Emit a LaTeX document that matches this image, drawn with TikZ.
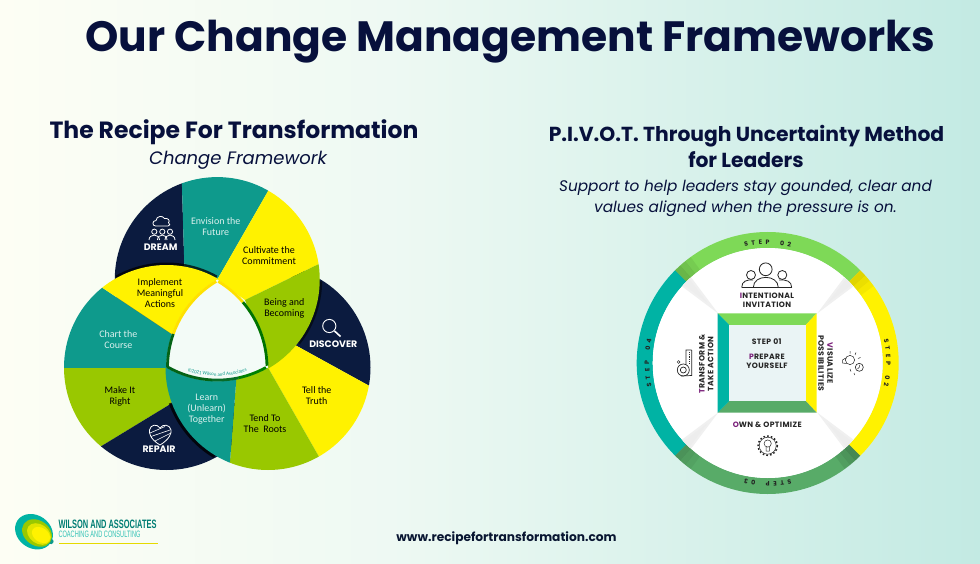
\documentclass[tikz,border=0pt]{standalone}
\usepackage{fontspec}
\setmainfont{Poppins}
\newfontfamily\wheelf{Carlito}
\newfontfamily\condf{Liberation Sans}
\usetikzlibrary{decorations.text}
\definecolor{navy}{HTML}{0B1B3F}
\definecolor{headc}{HTML}{07103C}
\definecolor{teal1}{HTML}{0E9A8C}
\definecolor{lime}{HTML}{99C800}
\definecolor{yel}{HTML}{FFF200}
\definecolor{bgl}{HTML}{FDFEF4}
\definecolor{bgm}{HTML}{EEF9F3}
\definecolor{bgr}{HTML}{C3EAE3}
\definecolor{ringg}{HTML}{7ED957}
\definecolor{ringd}{HTML}{58AB68}
\definecolor{ringt}{HTML}{00B3A4}
\definecolor{purp}{HTML}{7A1F7A}
\definecolor{stepc}{HTML}{222222}
\definecolor{sqin}{HTML}{EAF4F5}
\newcommand\fs[1]{\fontsize{#1}{#1}\selectfont}
\newcommand\arcc[4]{(#1) ++(#3:#2pt) arc[start angle=#3,end angle=#4,radius=#2pt]}
\newcommand\band[5]{(#1) ++(#4:#2pt) arc[start angle=#4,end angle=#5,radius=#2pt] -- ([shift={(#5:#3pt)}]#1) arc[start angle=#5,end angle=#4,radius=#3pt] -- cycle}
\newcommand\steplabel[2]{\foreach \c [count=\i] in {S,T,E,P,{},0,#2}{
  \pgfmathsetmacro\ang{#1+(\i-4)*3.45}
  \node[steptxt,rotate=-\ang-90] (st#1\i) at ([shift={(\ang:120.7pt)}]C) {\c};}}
\tikzset{
  wlabel/.style={font=\wheelf\fs{10},align=center,inner sep=0pt},
  wbig/.style={font=\bfseries\fs{9.4},text=white,inner sep=0pt},
  wtxt/.style={font=\bfseries\addfontfeature{LetterSpace=5}\fs{7.7},align=center,inner sep=0pt,text=black!85},
  steptxt/.style={font=\bfseries\fs{6.3},inner sep=0pt,text=stepc},
  icon/.style={draw=white,line width=.8pt,fill=none},
  bicon/.style={draw=black!85,line width=.8pt,fill=none},
  rim/.style={line width=2.8pt},
  steptext/.style={decorate,decoration={text along path,text align=center,text={#1}}},
  headt/.style={inner sep=0pt,anchor=base,text=headc},
}
\begin{document}
\begin{tikzpicture}[x=1pt,y=1pt,yscale=-1]
\useasboundingbox (0,0) rectangle (980,564);
\fill[left color=bgl,right color=bgm] (0,0) rectangle (390,564);
\fill[left color=bgm,right color=bgr] (390,0) rectangle (980,564);

\coordinate (T) at (217.25,279.6);
\coordinate (L) at (166.5,367.5);
\coordinate (R) at (268,367.5);
\coordinate (C) at (767.7,363);
\def\ro{102.5}

% left circle sectors
\begin{scope}
\clip (L) circle[radius=\ro pt];
\fill[teal1] (93,281.5) -- (171.7,334) -- (166.5,368) -- (60,368) -- (55,290) -- cycle;
\fill[lime] (60,368) -- (166.5,368) -- (171.7,403.3) -- (90,453) -- (55,453) -- cycle;
\fill[navy] (171.7,403.3) -- (90,453) -- (90,480) -- (240,480) -- (240,403) -- cycle;
\end{scope}
% shadow of right circle on the left one
\draw[black,opacity=.8,line width=3.5pt] \arcc{R}{103.8}{121}{160};
% right circle sectors
\begin{scope}
\clip (R) circle[radius=\ro pt];
\fill[navy] (295,345) -- (375,389) -- (385,300) -- (290,250) -- cycle;
\fill[yel] (268,367.5) -- (295,345) -- (375,389) -- (385,470) -- (326,469) -- cycle;
\fill[lime] (268,367.5) -- (326,469) -- (228.9,476) -- (230,461.7) -- (236,383.3) -- (236,367.5) -- cycle;
\fill[teal1] (236,383.3) -- (230,461.7) -- (228.9,476) -- (150,480) -- (150,360) -- (236,360) -- cycle;
\end{scope}
% shadow of top circle on Discover
\draw[black,opacity=.55,line width=3pt] \arcc{T}{103.5}{1}{38};
% top circle sectors
\begin{scope}
\clip (T) circle[radius=\ro pt];
\fill[navy] (184.6,275) -- (181.5,170) -- (95,170) -- (93,281.5) -- (171.7,334) -- cycle;
\fill[teal1] (217.25,279.6) -- (275,179) -- (181.5,170) -- (184.6,275) -- cycle;
\fill[yel] (217.25,279.6) -- (275,179) -- (330,179) -- (326,260.5) -- (245,300) -- cycle;
\fill[lime] (245,300) -- (326,260.5) -- (345,240) -- (345,400) -- (268,367.5) -- cycle;
\end{scope}
% shadow of the left circle on Dream and Envision
\draw[black,opacity=.75,line width=3pt] \arcc{L}{103.5}{241}{299};
% implement
\begin{scope}
\clip (L) circle[radius=\ro pt];
\fill[yel] (93,281.5) -- (171.7,334) -- (217.25,279.6) -- (225,275) -- (220,255) -- (100,255) -- cycle;
\end{scope}
% centre
\fill[bgm!70!white] (T) arc[start angle=300,end angle=360,radius=101.5pt]
  arc[start angle=60,end angle=120,radius=101.5pt]
  arc[start angle=180,end angle=240,radius=101.5pt] -- cycle;
\draw[rim,color=yel!85!orange] \arcc{L}{100.5}{301}{319.5};
\draw[rim,color=green!45!black] \arcc{L}{100.5}{319.5}{359};
\draw[rim,color=yel!85!orange] \arcc{R}{100.5}{239}{199.5};
\draw[rim,color=navy!50!green!70!black] \arcc{R}{100.5}{199.5}{180};
\draw[rim,color=navy!50!green!70!black] \arcc{T}{100.5}{120}{93};
\draw[rim,color=green!35!navy] \arcc{T}{100.5}{93}{78};
\draw[rim,color=green!50!black] \arcc{T}{100.5}{78}{61};
\path[steptext={|\wheelf\fs{5}\color{teal1}|©2021 Wilson and Associates}] \arcc{T}{96.5}{108}{72};

% wheel labels
\node[wlabel,text=white!85!teal1] (n1) at (215.7,226.7) {Envision the\\[.9pt]Future};
\node[wlabel,text=black] (n2) at (269,256) {Cultivate the\\[.9pt]Commitment};
\node[wlabel,text=black] (n3) at (284.3,308.7) {Being and\\[.9pt]Becoming};
\node[wlabel,text=black] (n4) at (316.7,396) {Tell the\\[.9pt]Truth};
\node[wlabel,text=black] (n5) at (265,423.3) {Tend To\\[.9pt]The\ \ Roots};
\node[wlabel,text=white!85!teal1] (n6) at (206.7,409) {Learn\\[.9pt](Unlearn)\\[.9pt]Together};
\node[wlabel,text=black] (n7) at (120,396.7) {Make It\\[.9pt]Right};
\node[wlabel,text=white!85!teal1] (n8) at (118.3,340) {Chart the\\[.9pt]Course};
\node[wlabel,text=black] (n9) at (160,292.7) {Implement\\[.9pt]Meaningful\\[.9pt]Actions};
\node[wbig] (d1) at (160.7,247.3) {DREAM};
\node[wbig] (d2) at (333.3,344.3) {DISCOVER};
\node[wbig] (d3) at (159,449.3) {REPAIR};

% dream icon
\draw[icon] (155.5,226) .. controls (152,226) and (152,220.5) .. (156,220.5) .. controls (156.5,216) and (162.5,215) .. (164.5,218.5) .. controls (168,217.5) and (170.5,221) .. (168.5,222.5) .. controls (171,224) and (169.5,226) .. (168,226) -- cycle;
\draw[icon] (154.3,231.7) circle[radius=2.6pt] (162.3,231.7) circle[radius=2.6pt] (170,231.7) circle[radius=2.6pt];
\draw[icon] (149,240) .. controls (149,233.5) and (159.5,233.5) .. (159.5,240);
\draw[icon] (157.5,240) .. controls (157.5,233.5) and (167,233.5) .. (167,240);
\draw[icon] (165,240) .. controls (165,233.5) and (175,233.5) .. (175,240);
% discover icon
\draw[icon,line width=.9pt] (329.3,326) circle[radius=6.6pt];
\draw[icon,line width=1.6pt] (334.5,331) -- (340.5,336.5);
% repair icon
\draw[icon] (160,445) .. controls (150,439) and (149,433) .. (149.5,430) .. controls (150.5,424.5) and (157,423.5) .. (160,428) .. controls (163,423.5) and (170,424.5) .. (171,430) .. controls (171.5,433) and (170,439) .. (160,445) -- cycle;
\draw[icon,line width=.6pt] (150,433) -- (165,426.5) (151,436.5) -- (170,430) (155,441) -- (171,433);

% wheel at right
\fill[ringg] \band{C}{131}{115}{225}{315};
\fill[ringd] \band{C}{131}{115}{45}{135};
\fill[ringt] \band{C}{131}{115}{135}{225};
\fill[yel] \band{C}{131}{115}{-45}{45};
% darker ring ends
\foreach \a/\b/\o in {225/228/.16,228/231/.11,231/234/.06,-45/-42/.12,-42/-39/.08,-39/-36/.04,45/48/.2,48/51/.13,51/54/.07,135/132/.14,132/129/.09,129/126/.05}{
  \fill[black,opacity=\o] \band{C}{131}{115}{\a}{\b};
}
\fill[white] (C) circle[radius=115pt];
% spokes
\foreach \a in {45,135,225,315}{
  \fill[black!6] ([shift={(\a:70pt)}]C) -- ([shift={(\a-3.2:115pt)}]C) arc[start angle=\a-3.2,end angle=\a+3.2,radius=115pt] -- cycle;
  \fill[black!7] ([shift={(\a:85pt)}]C) -- ([shift={(\a-2:115pt)}]C) arc[start angle=\a-2,end angle=\a+2,radius=115pt] -- cycle;
}
% square
\fill[ringg] (717.7,313.3) -- (816.7,313.3) -- (805.7,325) -- (729.3,325) -- cycle;
\fill[yel] (816.7,313.3) -- (816.7,412.7) -- (805.7,401) -- (805.7,325) -- cycle;
\fill[ringd] (816.7,412.7) -- (717.7,412.7) -- (729.3,401) -- (805.7,401) -- cycle;
\fill[ringt] (717.7,412.7) -- (717.7,313.3) -- (729.3,325) -- (729.3,401) -- cycle;
\fill[sqin] (729.3,325) rectangle (805.7,401);
% ring labels
\steplabel{270}{2}
\steplabel{0}{2}
\steplabel{90}{3}
\steplabel{180}{4}
% wheel text
\node[wtxt] (s1) at (766.7,341.7) {STEP 01};
\node[wtxt] (s2) at (767,361) {\textcolor{purp}{P}REPARE\\[1.2pt]YOURSELF};
\node[wtxt] (s3) at (767,300.7) {\textcolor{purp}{I}NTENTIONAL\\[1.2pt]INVITATION};
\node[wtxt] (s4) at (767.3,425) {\textcolor{purp}{O}WN \& OPTIMIZE};
\node[wtxt,rotate=90] (s5) at (706.3,364) {\textcolor{purp}{T}RANSFORM \&\\[1.2pt]TAKE ACTION};
\node[wtxt,rotate=-90] (s6) at (825.6,363.3) {\textcolor{purp}{V}ISUALIZE\\[1.2pt]POSSIBILITIES};
% people icon
\draw[bicon] (765.7,269.3) circle[radius=6.4pt] (751,275) circle[radius=4.5pt] (782.3,275) circle[radius=4.5pt];
\draw[bicon] (753.3,287.5) .. controls (753.3,274) and (778.3,274) .. (778.3,287.5);
\draw[bicon] (741.7,287.5) .. controls (741.7,281) and (747,279.5) .. (753,280);
\draw[bicon] (791.7,287.5) .. controls (791.7,281) and (786,279.5) .. (779,280);
\draw[bicon] (741.7,287.5) -- (791.7,287.5);
% bulb with gear
\draw[bicon,line width=.5pt] (767.7,445.7) circle[radius=8.5pt];
\draw[black!85,line width=1.5pt,dash pattern=on 1.6pt off 2.1pt] (767.7,445.7) circle[radius=9.6pt];
\draw[bicon,line width=.5pt] (767.7,443.5) circle[radius=3.6pt] (766,447) -- (766,451) -- (769.4,451) -- (769.4,447);
% bulb with clock
\draw[bicon,line width=.5pt] (850,360) circle[radius=4.6pt] (845.7,358) -- (842.5,360) -- (842.5,363) -- (846.5,363.5);
\draw[bicon,line width=.6pt,fill=white] (859.3,367.3) circle[radius=4pt];
\draw[bicon,line width=.5pt] (859.3,364.8) -- (859.3,367.3) -- (857.5,369);
\draw[bicon,line width=.5pt] (850,351) -- (850,353.5) (856,352.5) -- (855,355) (860.5,357.5) -- (858,358.5) (850,369) -- (851,371.5) (854,373) -- (854.5,375);
% tool icon
\draw[bicon,line width=.7pt] (683.3,370) circle[radius=6pt] (683.3,370) circle[radius=3pt];
\draw[bicon,line width=.7pt] (691.7,350) -- (686,350) -- (686,364.5) (691.7,350) -- (691.7,375.5) -- (681,376);
\draw[bicon,line width=.5pt] (678.5,362) circle[radius=1.4pt];
\draw[bicon,line width=.4pt,dash pattern=on .8pt off 1pt] (688.8,352) -- (688.8,364);

% titles
\node[headt,font=\bfseries\fs{42.4}] (title) at (510.3,51.7) {Our Change Management Frameworks};
\node[headt,font=\bfseries\fs{23.5}] (h1) at (234,138.5) {The Recipe For Transformation};
\node[headt,font=\itshape\fs{18}] (h1s) at (238,165) {Change Framework};
\node[headt,font=\bfseries\fs{20.3}] (h2a) at (746.5,141.5) {P.I.V.O.T. Through Uncertainty Method};
\node[headt,font=\bfseries\fs{20.3}] (h2b) at (746,168) {for Leaders};
\node[headt,font=\itshape\fs{15.3}] (h2c) at (745.5,191.5) {Support to help leaders stay gounded, clear and};
\node[headt,font=\itshape\fs{15.3}] (h2d) at (745.5,213) {values aligned when the pressure is on.};
\node[headt,text=navy!80!black,font=\bfseries\fs{12.2}] (url) at (506.5,541) {www.recipefortransformation.com};

% logo
\fill[ringt,rotate around={35:(34,531.7)}] (34,531.7) ellipse[x radius=20pt,y radius=16.5pt];
\fill[teal1,rotate around={35:(51,541.5)}] (51,541.5) circle[radius=2.6pt];
\fill[lime,rotate around={35:(37,533)}] (37,533) ellipse[x radius=16pt,y radius=12.5pt];
\fill[yel!70!lime,rotate around={35:(39,534)}] (39,534) ellipse[x radius=13pt,y radius=9.5pt];
\fill[yel,rotate around={35:(41,535)}] (41,535) ellipse[x radius=10pt,y radius=7pt];
\node[inner sep=0pt,anchor=west,text=ringt!70!black] (l1) at (58.3,524) {\resizebox{98pt}{8.5pt}{\condf\bfseries WILSON AND ASSOCIATES}};
\node[inner sep=0pt,anchor=west,text=ringt!80!white] (l2) at (58.3,534.3) {\resizebox{82pt}{6.5pt}{\condf COACHING AND CONSULTING}};
\fill[yel!90!black] (58.5,542.6) rectangle (157.5,544.2);
\end{tikzpicture}
\end{document}
